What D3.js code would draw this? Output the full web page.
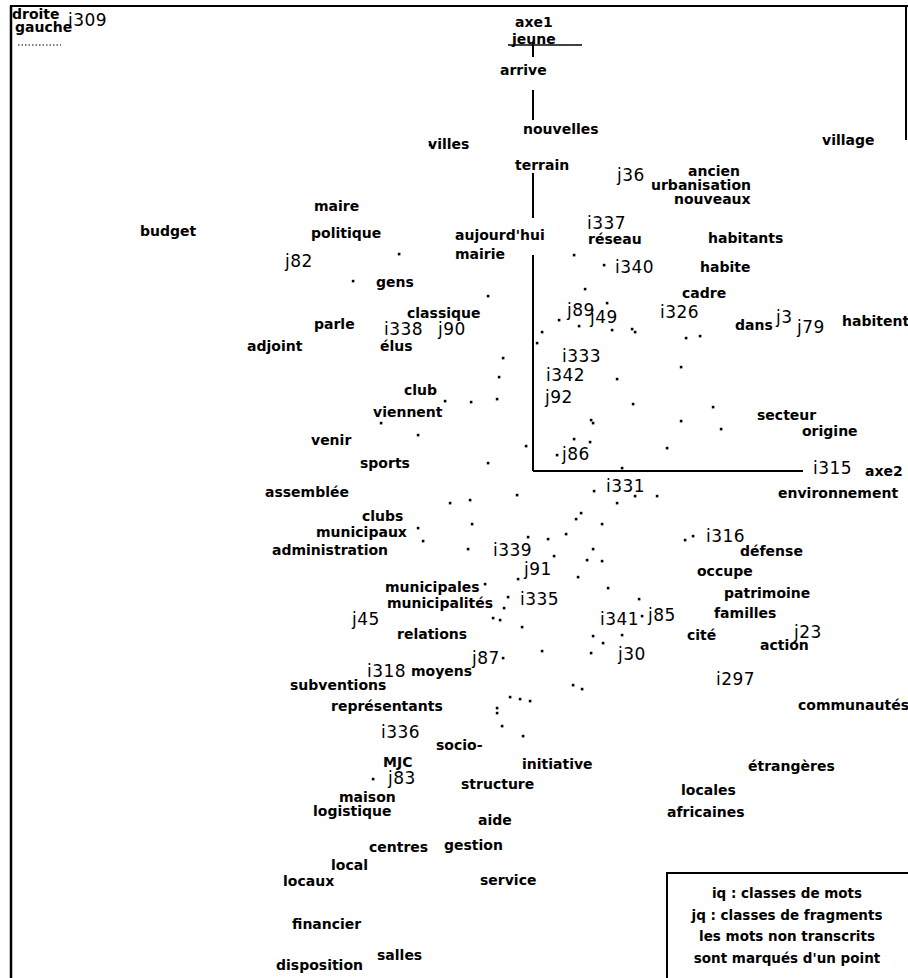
<!DOCTYPE html>
<html>
<head>
<meta charset="utf-8">
<script src="https://cdnjs.cloudflare.com/ajax/libs/d3/7.8.5/d3.min.js"></script>
<style>
	body { margin: 0; background: #fff; }
	svg { display: block; }
	.word { font-family: "DejaVu Sans", sans-serif; font-weight: bold; font-size: 14px; }
	.cls { font-family: "DejaVu Sans", sans-serif; font-size: 17px; letter-spacing: 0.5px; }
	.legend { font-family: "DejaVu Sans", sans-serif; font-weight: bold; font-size: 13.5px; }
</style>
</head>
<body>
<svg id="plan" width="908" height="978"></svg>
<script>

// words (axe2 = horizontal, axe1 = vertical), coordinates
const words = ["droite", "gauche", "axe1", "jeune", "arrive", "nouvelles", "villes", "terrain", "village",
	"ancien", "urbanisation", "nouveaux", "maire", "budget", "politique", "aujourd'hui", "réseau", "habitants",
	"mairie", "habite", "gens", "cadre", "classique", "dans", "habitent", "parle", "adjoint", "élus", "club",
	"viennent", "secteur", "origine", "venir", "sports", "axe2", "assemblée", "environnement", "clubs",
	"municipaux", "administration", "défense", "occupe", "municipales", "patrimoine", "municipalités",
	"familles", "relations", "cité", "action", "moyens", "subventions", "représentants", "communautés",
	"socio-", "MJC", "initiative", "étrangères", "structure", "maison", "locales", "logistique", "africaines",
	"aide", "centres", "gestion", "local", "locaux", "service", "financier", "salles", "disposition"];
const wordsAxe2 = [-5.21, -5.18, -0.18, -0.21, -0.33, -0.10, -1.05, -0.18, 2.89,
	1.55, 1.18, 1.41, -2.19, -3.93, -2.22, -0.78, 0.55, 1.75,
	-0.78, 1.67, -1.57, 1.49, -1.26, 2.02, 3.09, -2.19, -2.86, -1.53, -1.29,
	-1.60, 2.24, 2.69, -2.22, -1.73, 3.32, -2.68, 2.45, -1.71,
	-2.17, -2.61, 2.07, 1.64, -1.48, 1.91, -1.46,
	1.81, -1.36, 1.54, 2.27, -1.22, -2.43, -2.02, 2.65,
	-0.97, -1.50, -0.11, 2.15, -0.72, -1.94, 1.48, -2.20, 1.34,
	-0.55, -1.64, -0.89, -2.02, -2.50, -0.53, -2.41, -1.56, -2.57];
const wordsAxe1 = [4.52, 4.39, 4.44, 4.27, 3.96, 3.37, 3.22, 3.01, 3.26,
	2.95, 2.81, 2.67, 2.60, 2.35, 2.33, 2.31, 2.27, 2.28,
	2.12, 1.99, 1.84, 1.73, 1.53, 1.41, 1.45, 1.42, 1.20, 1.20, 0.76,
	0.54, 0.51, 0.35, 0.26, 0.03, -0.05, -0.26, -0.27, -0.50,
	-0.66, -0.84, -0.85, -1.05, -1.21, -1.27, -1.37,
	-1.47, -1.68, -1.69, -1.79, -2.05, -2.19, -2.40, -2.39,
	-2.79, -2.96, -2.98, -3.00, -3.18, -3.31, -3.24, -3.45, -3.46,
	-3.54, -3.81, -3.79, -3.99, -4.15, -4.14, -4.58, -4.89, -4.99];

// classes de mots (i) et de fragments (j)
const classes = ["i309", "j36", "i337", "j82", "i340", "j89", "j49", "i326", "j3", "j79", "i338", "j90",
	"i333", "i342", "j92", "j86", "i315", "i331", "i339", "j91", "i316", "i335", "j45", "i341", "j85",
	"j23", "j87", "j30", "i318", "i297", "i336", "j83"];
const classesAxe2 = [-4.65, 0.84, 0.54, -2.48, 0.82, 0.34, 0.57, 1.27, 2.43, 2.64, -1.49, -0.95,
	0.29, 0.13, 0.12, 0.29, 2.80, 0.73, -0.40, -0.09, 1.73, -0.13, -1.81, 0.67, 1.15,
	2.61, -0.61, 0.85, -1.66, 1.83, -1.52, -1.45];
const classesAxe1 = [4.45, 2.90, 2.42, 2.04, 1.98, 1.55, 1.48, 1.53, 1.48, 1.38, 1.36, 1.36,
	1.09, 0.90, 0.68, 0.11, -0.03, -0.21, -0.85, -1.04, -0.71, -1.34, -1.54, -1.54, -1.50,
	-1.67, -1.93, -1.89, -2.06, -2.14, -2.67, -3.13];

// mots non transcrits (un point)
const dotsAxe2 = [-1.03, -1.34, 0.41, -1.80, -0.45, 0.52, 0.71, 0.26, 0.09, 0.04, 0.46, 0.74, 0.79, 0.99,
	1.02, 1.53, 1.67, -0.30, -0.34, 1.48, 0.84, -0.88, -0.62, -0.36, 1.00, 1.80, 0.58, 0.60, 1.48, 1.88,
	-1.52, -1.15, 0.41, 0.57, -0.07, 1.34, -0.45, 0.24, 0.89, -0.83, -0.63, -0.16, 0.61, 0.84, 1.02, 1.24,
	-1.15, -1.10, -0.61, 0.43, 0.48, -0.05, 0.15, 0.33, 0.69, -0.65, 0.60, 0.21, 0.54, 0.69, 1.52, 1.60,
	0.45, -0.15, -0.48, 0.75, 1.06, -0.25, -0.29, -0.40, -0.33, 1.09, -0.11, 0.60, 0.89, 0.70, 0.09, 0.58,
	-0.30, 0.40, 0.49, -0.23, -0.13, -0.03, -0.36, -0.36, -0.31, -0.10, -1.60];
const dotsAxe1 = [3.26, 2.17, 2.16, 1.90, 1.75, 1.82, 2.06, 1.51, 1.39, 1.28, 1.45, 1.68, 1.41, 1.42,
	1.39, 1.33, 1.35, 1.13, 0.94, 1.04, 0.92, 0.70, 0.69, 0.72, 0.67, 0.64, 0.51, 0.48, 0.50, 0.42,
	0.48, 0.36, 0.32, 0.29, 0.25, 0.23, 0.08, 0.16, 0.03, -0.32, -0.29, -0.24, -0.20, -0.32, -0.25, -0.25,
	-0.57, -0.70, -0.53, -0.48, -0.42, -0.66, -0.68, -0.63, -0.53, -0.78, -0.78, -0.85, -0.89, -0.90, -0.69, -0.65,
	-1.06, -1.08, -1.13, -1.17, -1.28, -1.26, -1.37, -1.47, -1.49, -1.45, -1.56, -1.65, -1.64, -1.72, -1.80, -1.82,
	-1.87, -2.14, -2.18, -2.26, -2.28, -2.30, -2.37, -2.42, -2.55, -2.65, -3.08];

// axe1 is drawn in pieces, interrupted by the labels sitting on it
const axe1Pieces = [[4.28, 4.14], [3.81, 3.51], [2.98, 2.53], [2.16, 0]];
const axe2End = 2.70;
const jeuneMark = [-0.25, 0.49, 4.26];

const legendLines = ["iq : classes de mots", "jq : classes de fragments", "les mots non transcrits", "sont marqués d'un point"];

let width = 908;
let height = 978;

let svg = d3.select("#plan");

// one unit = 100px, origin of the plan at (533, 471)
let x = d3.scaleLinear().domain([-5.33, 3.75]).range([0, width]);
let y = d3.scaleLinear().domain([4.71, -5.07]).range([0, height]);

// frame of the scanned page
svg.append("line").attr("x1", 11).attr("y1", 6).attr("x2", 11).attr("y2", height)
	.attr("stroke", "#000").attr("stroke-width", 2.5);
svg.append("line").attr("x1", 10).attr("y1", 6).attr("x2", width).attr("y2", 6)
	.attr("stroke", "#000").attr("stroke-width", 2);
svg.append("line").attr("x1", 906).attr("y1", 6).attr("x2", 906).attr("y2", 140)
	.attr("stroke", "#000").attr("stroke-width", 2);

// axes
svg.selectAll("line.axe1").data(axe1Pieces).enter().append("line")
	.attr("class", "axe1")
	.attr("x1", x(0)).attr("x2", x(0))
	.attr("y1", (d) => y(d[0])).attr("y2", (d) => y(d[1]))
	.attr("stroke", "#000").attr("stroke-width", 2);

svg.append("line")
	.attr("x1", x(0)).attr("x2", x(axe2End))
	.attr("y1", y(0)).attr("y2", y(0))
	.attr("stroke", "#000").attr("stroke-width", 2);

svg.append("line")
	.attr("x1", x(jeuneMark[0])).attr("x2", x(jeuneMark[1]))
	.attr("y1", y(jeuneMark[2])).attr("y2", y(jeuneMark[2]))
	.attr("stroke", "#000").attr("stroke-width", 1.5);

// small dotted trace under "gauche"
svg.append("line")
	.attr("x1", x(-5.15)).attr("x2", x(-4.72))
	.attr("y1", y(4.26)).attr("y2", y(4.26))
	.attr("stroke", "#000").attr("stroke-width", 1.2).attr("stroke-dasharray", "1.5,2");

// points
svg.selectAll("rect.dot").data(dotsAxe2).enter().append("rect")
	.attr("class", "dot")
	.attr("x", (d) => x(d) - 1.2)
	.attr("y", (d, i) => y(dotsAxe1[i]) - 1.2)
	.attr("width", 2.6).attr("height", 2.6)
	.attr("fill", "#000");

// words
svg.selectAll("text.word").data(words).enter().append("text")
	.attr("class", "word")
	.attr("x", (d, i) => x(wordsAxe2[i]))
	.attr("y", (d, i) => y(wordsAxe1[i]))
	.text((d) => d);

// classes
svg.selectAll("text.cls").data(classes).enter().append("text")
	.attr("class", "cls")
	.attr("x", (d, i) => x(classesAxe2[i]))
	.attr("y", (d, i) => y(classesAxe1[i]))
	.text((d) => d);

// legend box (bottom right, open at the bottom)
let lg = svg.append("g").attr("transform", "translate(666,872)");
lg.append("path")
	.attr("d", "M1," + (height - 872) + "V1H" + (width - 666))
	.attr("fill", "none").attr("stroke", "#000").attr("stroke-width", 2);
lg.selectAll("text").data(legendLines).enter().append("text")
	.attr("class", "legend")
	.attr("x", 121)
	.attr("y", (d, i) => 26 + i * 21.5)
	.attr("text-anchor", "middle")
	.text((d) => d);

</script>
</body>
</html>
